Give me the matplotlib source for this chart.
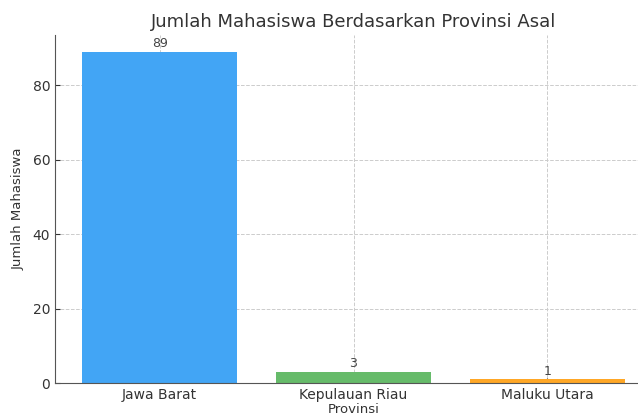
import matplotlib
matplotlib.use("Agg")
import matplotlib.pyplot as plt

plt.rcParams["font.family"] = ["DejaVu Sans"]

provinces = ["Jawa Barat", "Kepulauan Riau", "Maluku Utara"]
counts = [89, 3, 1]
colors = ["#42A5F5", "#66BB6A", "#FFA726"]

fig = plt.figure(figsize=(6.38, 4.19), dpi=100)
ax = fig.add_axes([55/638, 36/419, 597/638, 348/419])

bars = ax.bar(provinces, counts, color=colors, width=0.8, zorder=2)
for b, v in zip(bars, counts):
    ax.text(b.get_x() + b.get_width()/2, v + 0.4, str(v), ha="center", va="bottom",
            fontsize=9, color="#444444", zorder=3)

ax.set_xlim(-0.54, 2.54)
ax.set_ylim(0, 93.45)
ax.set_yticks([0, 20, 40, 60, 80])
ax.grid(True, linestyle="--", color="#cccccc", linewidth=0.7, zorder=0)
for s in ["top", "right"]:
    ax.spines[s].set_visible(False)
for s in ["left", "bottom"]:
    ax.spines[s].set_color("#555555")
ax.tick_params(direction="in", colors="#333333", labelsize=10)
ax.set_title("Jumlah Mahasiswa Berdasarkan Provinsi Asal", fontsize=13, color="#333333", pad=6)
ax.set_xlabel("Provinsi", fontsize=9.5, color="#333333", labelpad=1)
ax.set_ylabel("Jumlah Mahasiswa", fontsize=9.5, color="#333333", labelpad=6)

fig.savefig("out.png", dpi=100)
